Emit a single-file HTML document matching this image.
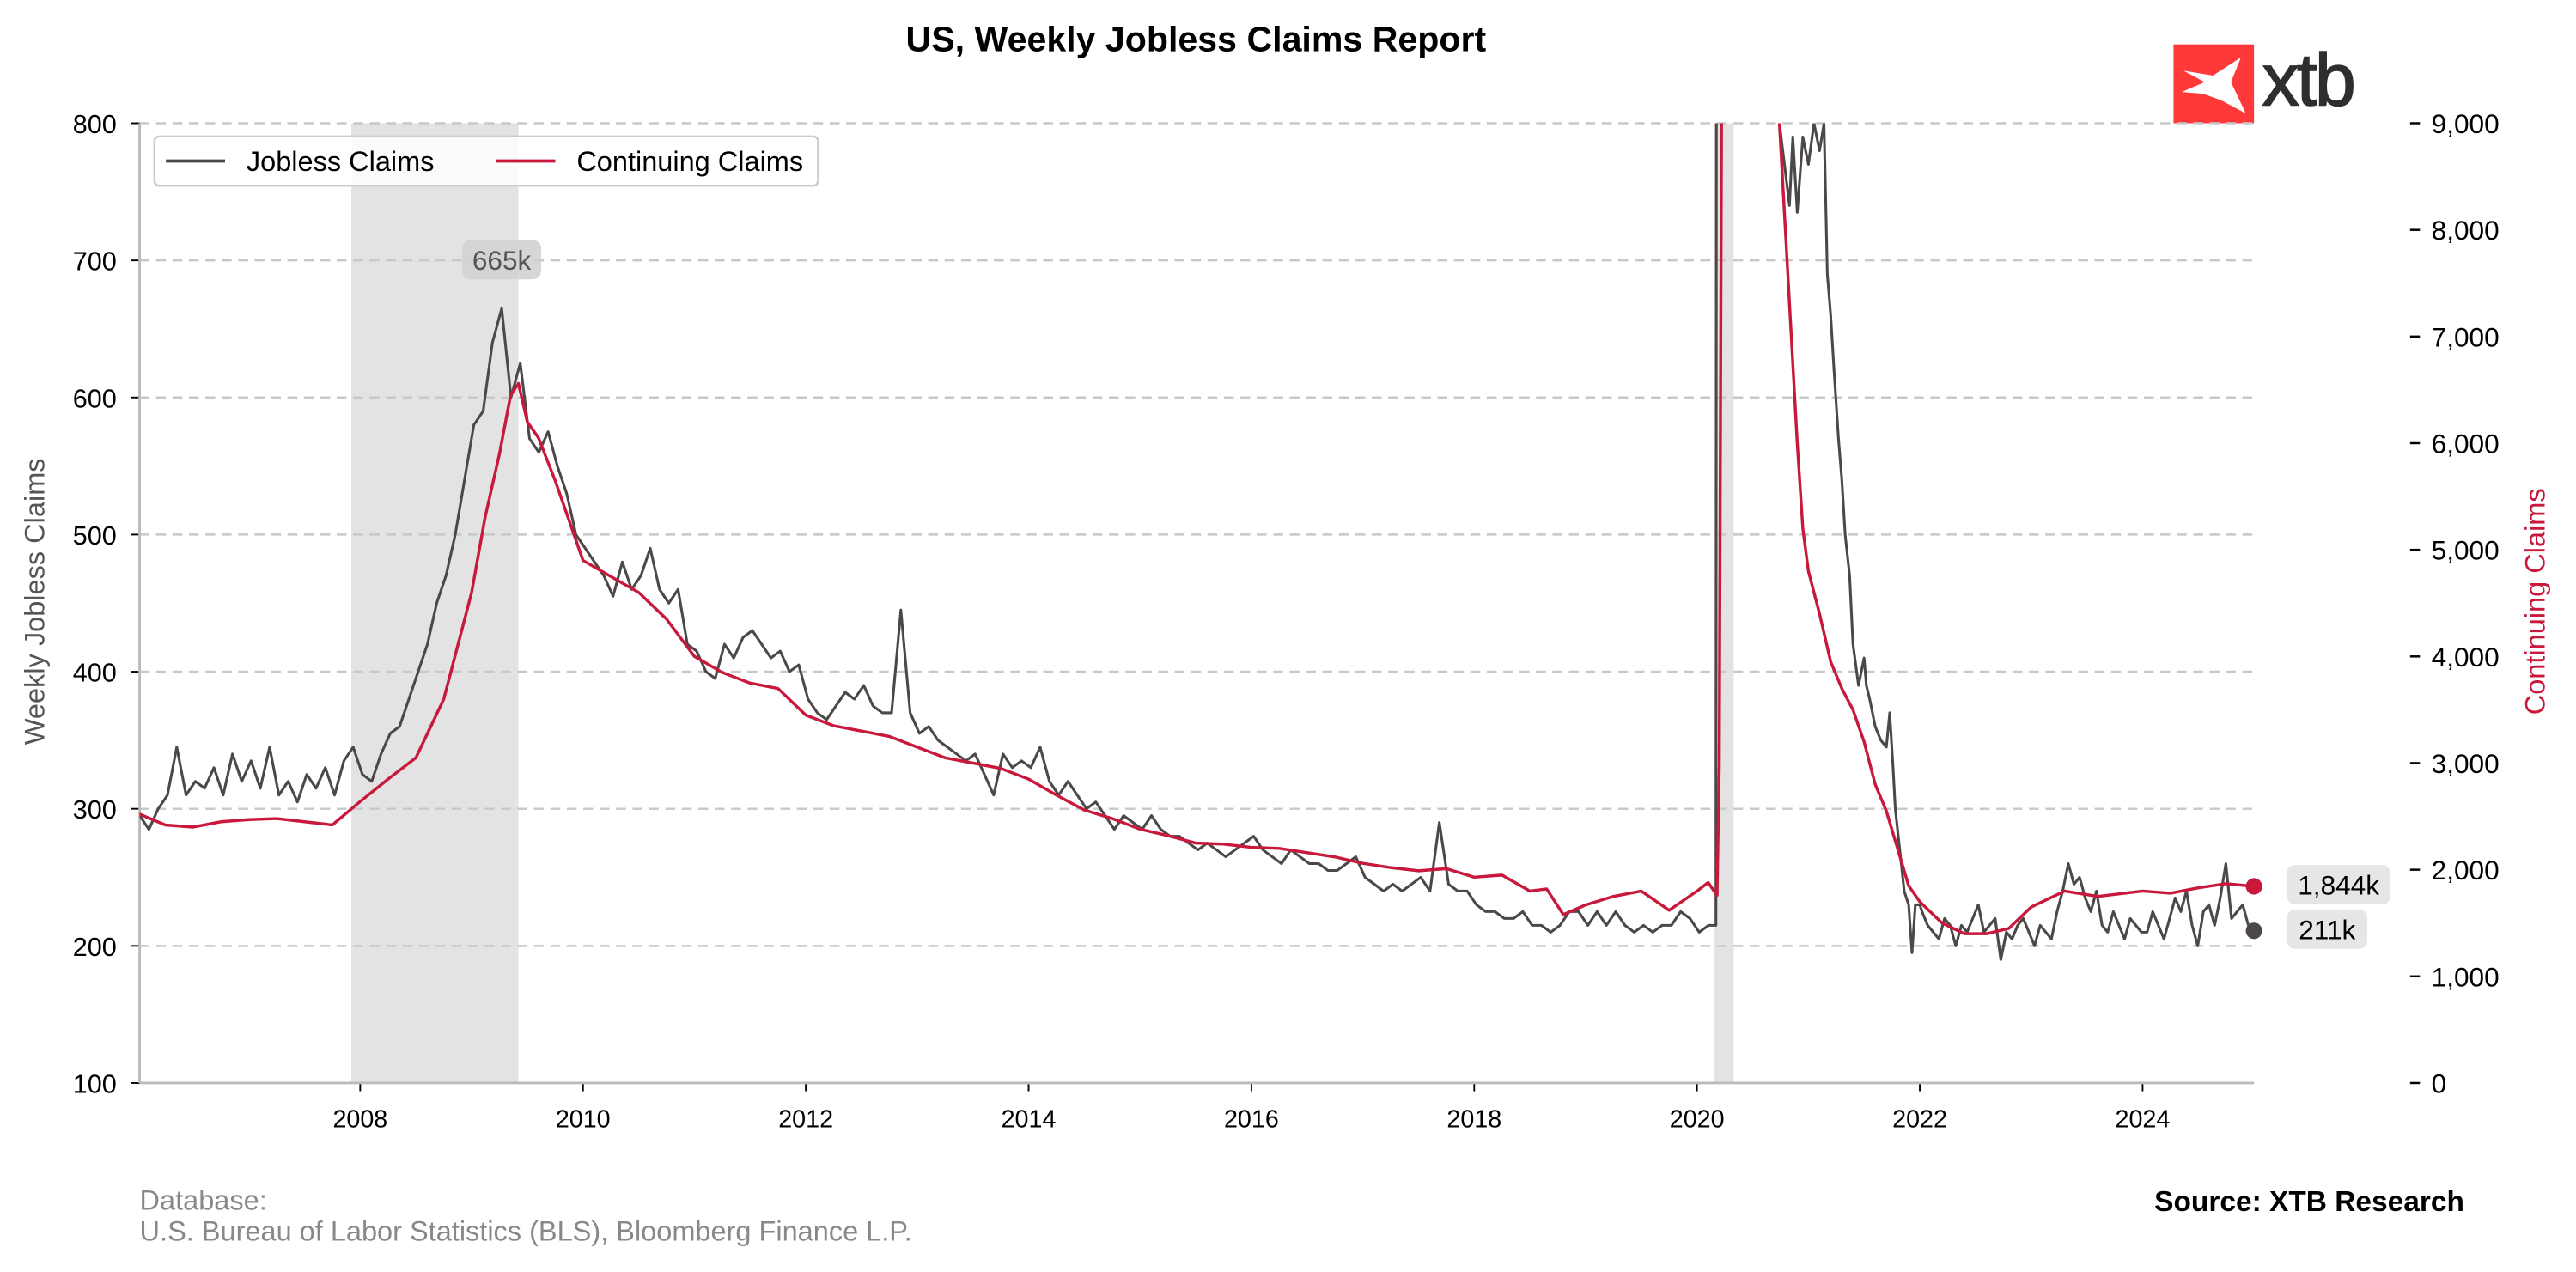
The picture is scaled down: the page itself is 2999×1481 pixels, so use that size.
<!DOCTYPE html>
<html><head><meta charset="utf-8">
<style>
html,body{margin:0;padding:0;background:#fff;}
svg{display:block;font-family:"Liberation Sans",Arial,sans-serif;}
</style></head>
<body>
<svg id="chart" width="2999" height="1481" viewBox="0 0 1568 774" preserveAspectRatio="none" xmlns="http://www.w3.org/2000/svg">
<defs><clipPath id="plotclip"><rect x="85" y="75" width="1287" height="584"/></clipPath></defs>
<text x="728" y="31" text-anchor="middle" font-size="21.5" font-weight="bold" fill="#000">US, Weekly Jobless Claims Report</text>
<g>
<rect x="1323" y="27" width="49" height="48" fill="#ff3839"/>
<path d="M1329,43 L1347,46 L1364,35 L1358,50 L1367,69 L1352,61 L1341,57 L1328,56 L1342,50 Z" fill="#fff"/>
<text x="1377" y="64" font-size="45" fill="#2e2e2e" letter-spacing="-1.5" stroke="#2e2e2e" stroke-width="0.8">xtb</text>
</g>
<g id="shades"></g>
<g id="grid"></g>
<g id="axes"></g>
<g id="series" clip-path="url(#plotclip)"></g>
<g id="annot"></g>
<g>
<rect x="94" y="83" width="404" height="30" rx="3" fill="#fff" fill-opacity="0.85" stroke="#ccc" stroke-width="1.3"/>
<line x1="101" y1="98" x2="137" y2="98" stroke="#4d4848" stroke-width="2"/>
<text x="150" y="104" font-size="17" fill="#000">Jobless Claims</text>
<line x1="302" y1="98" x2="338" y2="98" stroke="#c8193c" stroke-width="2"/>
<text x="351" y="104" font-size="17" fill="#000">Continuing Claims</text>
</g>
<text transform="translate(27,366) rotate(-90)" text-anchor="middle" font-size="17" fill="#555">Weekly Jobless Claims</text>
<text transform="translate(1549,366) rotate(-90)" text-anchor="middle" font-size="17" fill="#c8193c">Continuing Claims</text>
<text x="85" y="736" font-size="17" fill="#888">Database:</text>
<text x="85" y="755" font-size="17" fill="#888">U.S. Bureau of Labor Statistics (BLS), Bloomberg Finance L.P.</text>
<text x="1500" y="737" text-anchor="end" font-size="17.5" font-weight="bold" fill="#000">Source: XTB Research</text>
</svg>
<script>
const xTicks=[2008,2010,2012,2014,2016,2018,2020,2022,2024];
const leftTicks=[100,200,300,400,500,600,700,800];
const rightTicks=[0,1000,2000,3000,4000,5000,6000,7000,8000,9000];
const recessions=[[2007.92,2009.42],[2020.15,2020.33]];
// monthly jobless claims Jan 2006 .. Feb 2020
const joblessV=[
295,285,300,310,345,310,320,315,330,310,340,320,
335,315,345,310,320,305,325,315,330,310,335,345,
325,320,340,355,360,380,400,420,450,470,500,540,
580,590,640,665,600,625,570,560,575,550,530,500,
490,480,470,455,480,460,470,490,460,450,460,420,
415,400,395,420,410,425,430,420,410,415,400,405,
380,370,365,375,385,380,390,375,370,370,445,370,
355,360,350,345,340,335,340,325,310,340,330,335,
330,345,320,310,320,310,300,305,295,285,295,290,
285,295,285,280,280,275,270,275,270,265,270,275,
280,270,265,260,270,265,260,260,255,255,260,265,
250,245,240,245,240,245,250,240,290,245,240,240,
230,225,225,220,220,225,215,215,210,215,225,225,
215,225,215,225,215,210,215,210,215,215,225,220,
210,215];
const joblessCovidT=[2020.17,2020.19,2020.21,2020.25,2020.35,2020.5,2020.7,2020.74,2020.8,2020.83,2020.86,2020.9,2020.95,2021.0,2021.05,2021.1,2021.14,2021.17,2021.2,2021.23,2021.27,2021.3,2021.33,2021.37,2021.4,2021.45,2021.5,2021.52,2021.55,2021.6,2021.65,2021.7,2021.73,2021.76,2021.78,2021.82,2021.86,2021.9,2021.93,2021.96,2022.0];
const joblessCovidV=[215,2900,6800,5000,2500,1400,900,800,760,740,790,735,790,770,800,780,800,690,660,620,570,540,500,470,420,390,410,390,380,360,350,345,370,330,300,270,240,230,195,230,230];
const jobless2022=[
225,215,210,205,220,215,200,215,210,220,230,210,215,220,190,210,205,215,220,210,200,
215,210,205,225,240,260,245,250,235,225,240,215,210,225,215,205,220,215,210,
210,225,215,205,220,235,225,240,215,200,225,230,215,235,260,220,225,230,215,211];
const contT=[2006.0,2006.25,2006.5,2006.75,2007.0,2007.25,2007.5,2007.75,2008.0,2008.25,2008.5,2008.75,2009.0,2009.12,2009.25,2009.35,2009.42,2009.5,2009.6,2009.75,2010.0,2010.25,2010.5,2010.75,2011.0,2011.25,2011.5,2011.75,2012.0,2012.25,2012.5,2012.75,2013.0,2013.25,2013.5,2013.75,2014.0,2014.25,2014.5,2014.75,2015.0,2015.25,2015.5,2015.75,2016.0,2016.25,2016.5,2016.75,2017.0,2017.25,2017.5,2017.75,2018.0,2018.25,2018.5,2018.65,2018.8,2019.0,2019.25,2019.5,2019.75,2020.0,2020.1,2020.18,2020.2,2020.23,2020.35,2020.6,2020.74,2020.82,2020.9,2020.95,2021.0,2021.1,2021.2,2021.3,2021.4,2021.5,2021.6,2021.7,2021.8,2021.9,2022.0,2022.2,2022.4,2022.6,2022.8,2023.0,2023.3,2023.6,2024.0,2024.25,2024.5,2024.75,2025.0];
const contV=[2530,2420,2400,2450,2470,2480,2450,2420,2640,2850,3050,3600,4600,5300,5900,6450,6560,6200,6050,5650,4900,4750,4600,4350,4000,3850,3750,3700,3450,3350,3300,3250,3150,3050,3000,2950,2850,2700,2560,2480,2380,2320,2250,2240,2210,2200,2160,2120,2060,2020,1990,2010,1930,1950,1800,1820,1580,1670,1750,1800,1620,1800,1880,1760,3000,12000,22000,14000,9000,7500,6000,5200,4800,4400,3950,3700,3500,3200,2800,2550,2200,1850,1700,1500,1400,1400,1450,1650,1800,1750,1800,1780,1830,1870,1844];
</script>
<script>
const NS='http://www.w3.org/2000/svg';
const L=85,R=1372,T=75,B=659;
function xs(y){return L+(y-2006.02)/(2025.0-2006.02)*(R-L);}
function yl(v){return B-(v-100)/700*(B-T);}
function yr(v){return B-v/9000*(B-T);}
function mk(tag,attrs,parent){const e=document.createElementNS(NS,tag);for(const k in attrs)e.setAttribute(k,attrs[k]);parent.appendChild(e);return e;}
const shades=document.getElementById('shades'),grid=document.getElementById('grid'),axes=document.getElementById('axes'),series=document.getElementById('series'),annot=document.getElementById('annot');
recessions.forEach(r=>{const e=mk('rect',{x:xs(r[0]),y:T,width:xs(r[1])-xs(r[0]),height:B-T,fill:'#e3e3e3'},shades);

});
leftTicks.forEach(v=>{const y=yl(v);
if(v>100){const g=mk('line',{x1:L,x2:R,y1:y,y2:y,stroke:'#c8c8c8','stroke-width':1.3,'stroke-dasharray':'6,4'},grid);

}
mk('line',{x1:L-5,x2:L,y1:y,y2:y,stroke:'#000','stroke-width':1},axes);
const t=mk('text',{x:L-14,y:y+6,'text-anchor':'end','font-size':16,fill:'#000'},axes);t.textContent=v;

});
rightTicks.forEach(v=>{const y=yr(v);
mk('line',{x1:1467,x2:1473,y1:y,y2:y,stroke:'#000','stroke-width':1.3},axes);
const t=mk('text',{x:1480,y:y+6,'font-size':16.5,fill:'#000'},axes);t.textContent=v.toLocaleString('en-US');

});
xTicks.forEach(v=>{const x=xs(v);
mk('line',{x1:x,x2:x,y1:B,y2:B+5,stroke:'#000','stroke-width':1},axes);
const t=mk('text',{x:x,y:B+27,'text-anchor':'middle','font-size':15,fill:'#000'},axes);t.textContent=v;

});
mk('line',{x1:L,x2:L,y1:T,y2:B,stroke:'#bbb','stroke-width':1.5},axes);
mk('line',{x1:L,x2:R,y1:B,y2:B,stroke:'#bbb','stroke-width':1.5},axes);
let jt=[],jv=[];
for(let i=0;i<joblessV.length;i++){jt.push(2006.02+i/12);jv.push(joblessV[i]);}
for(let i=0;i<joblessCovidT.length;i++){jt.push(joblessCovidT[i]);jv.push(joblessCovidV[i]);}
for(let i=0;i<jobless2022.length;i++){jt.push(2022.02+i*(2025.0-2022.02)/(jobless2022.length-1));jv.push(jobless2022[i]);}
let d='';jt.forEach((t,i)=>{d+=(i?'L':'M')+xs(t).toFixed(2)+','+yl(jv[i]).toFixed(2);});
const pj=mk('path',{d:d,fill:'none',stroke:'#4d4848','stroke-width':1.6,'stroke-linejoin':'round'},series);


let d2='';contT.forEach((t,i)=>{d2+=(i?'L':'M')+xs(t).toFixed(2)+','+yr(contV[i]).toFixed(2);});
const pc=mk('path',{d:d2,fill:'none',stroke:'#c8193c','stroke-width':1.8,'stroke-linejoin':'round'},series);


const lastJ=jv[jv.length-1],lastC=contV[contV.length-1];
const dj=mk('circle',{cx:xs(2025.0),cy:yl(lastJ),r:5,fill:'#4d4848'},annot);


const dc=mk('circle',{cx:xs(2025.0),cy:yr(lastC),r:5,fill:'#c8193c'},annot);


function badge(x,y,w,txt,name,col){const g=mk('g',{},annot);


mk('rect',{x:x,y:y-12,width:w,height:24,rx:5,fill:col},g);
const t=mk('text',{x:x+w/2,y:y+6,'text-anchor':'middle','font-size':16.5,fill:'#000'},g);t.textContent=txt;}
badge(1392,yr(lastC)-1,63,Math.round(lastC).toLocaleString('en-US')+'k','continuing-last-label','#e6e6e6');
badge(1392,yl(lastJ)-1,49,lastJ+'k','jobless-last-label','#e6e6e6');
let mi=0;jv.forEach((v,i)=>{if(jt[i]<2015&&v>jv[mi])mi=i;});
const pk=mk('g',{},annot);


mk('rect',{x:xs(jt[mi])-24,y:146,width:48,height:24,rx:5,fill:'#d2d2d2','fill-opacity':0.9},pk);
const pt=mk('text',{x:xs(jt[mi]),y:164,'text-anchor':'middle','font-size':16.5,fill:'#555'},pk);pt.textContent=jv[mi]+'k';
</script>
</body></html>
